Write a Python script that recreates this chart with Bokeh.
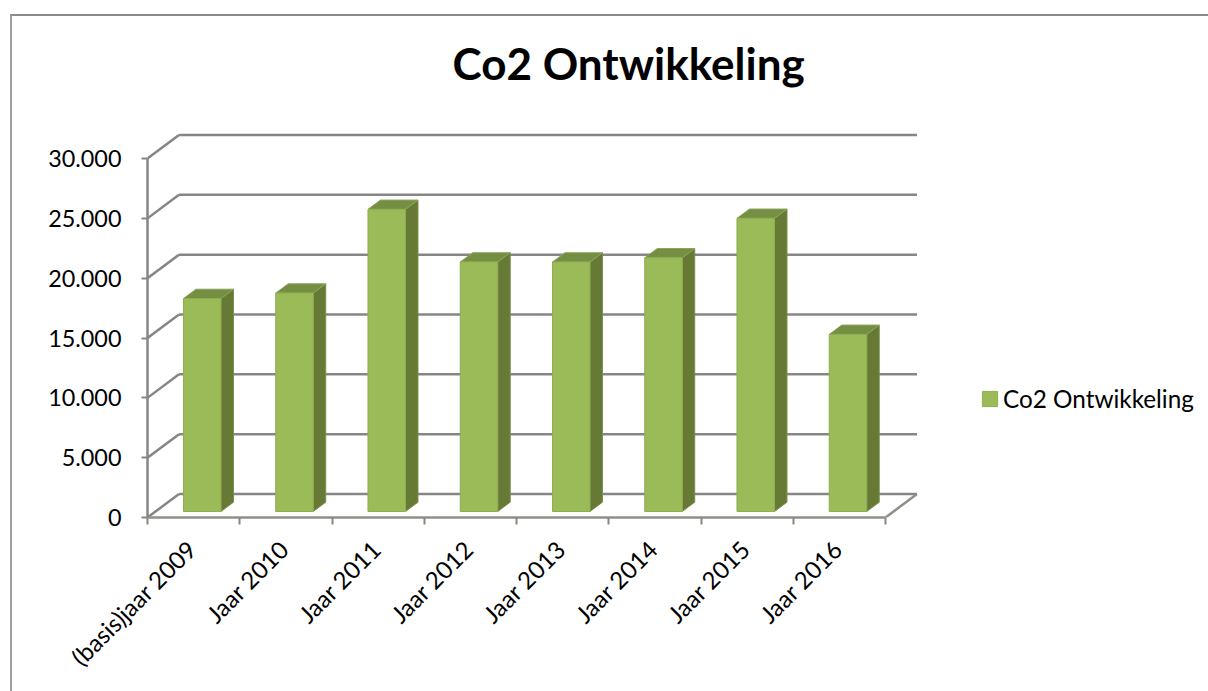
import math
from bokeh.plotting import figure
from bokeh.models import (ColumnDataSource, FixedTicker, Legend, LegendItem, Title, InlineStyleSheet)
from bokeh.embed import file_html
from bokeh.resources import INLINE

categories = ["(basis)jaar 2009", "Jaar 2010", "Jaar 2011", "Jaar 2012",
              "Jaar 2013", "Jaar 2014", "Jaar 2015", "Jaar 2016"]
co2_values = [17800, 18250, 25250, 20850, 20850, 21200, 24500, 14800]
y_ticks = [0, 5000, 10000, 15000, 20000, 25000, 30000]
y_labels = ["0", "5.000", "10.000", "15.000", "20.000", "25.000", "30.000"]
series_name = "Co2 Ontwikkeling"

# projection of the pseudo-3D chart
PX_PER_CAT = 92.25
PX_PER_VAL = 359 / 30000
FRAME_W, FRAME_H = 1061, 417
DEPTH_X, DEPTH_Y = 31.5 / PX_PER_CAT, 23.5 / PX_PER_VAL
BAR_W = 37.5 / PX_PER_CAT
BAR_SHIFT_X, BAR_SHIFT_Y = 8.6 / PX_PER_CAT, 6 / PX_PER_VAL
SIDE_X, SIDE_Y = 12.5 / PX_PER_CAT, 9.3 / PX_PER_VAL
LABEL_NUDGE = 2 / PX_PER_CAT
GRID = "#868686"
FONT = "Lato"

p = figure(width=1208, height=691, frame_width=FRAME_W, frame_height=FRAME_H,
           x_range=(0, FRAME_W / PX_PER_CAT), y_range=(0, FRAME_H / PX_PER_VAL),
           output_backend="svg", toolbar_location=None, tools="",
           min_border_left=147, min_border_right=0, min_border_top=100, min_border_bottom=174,
           x_axis_type="linear", y_axis_type="linear")
p.grid.visible = False
p.outline_line_color = None
p.background_fill_color = None
p.border_fill_color = "white"

p.title = Title(text=series_name, text_font=FONT, text_font_size="44px", text_font_style="bold",
                text_color="black", align="left", offset=305, standoff=24)

n = len(categories)
# side-wall and back-wall lines
p.segment(x0=[0] * len(y_ticks), y0=y_ticks,
          x1=[DEPTH_X] * len(y_ticks), y1=[v + DEPTH_Y for v in y_ticks],
          line_color=GRID, line_width=2.5)
p.segment(x0=[DEPTH_X] * len(y_ticks), y0=[v + DEPTH_Y for v in y_ticks],
          x1=[n + DEPTH_X] * len(y_ticks), y1=[v + DEPTH_Y for v in y_ticks],
          line_color=GRID, line_width=2.5)
# floor right edge
p.segment(x0=[n], y0=[0], x1=[n + DEPTH_X], y1=[DEPTH_Y], line_color="#8f9085", line_width=2.5)

idx = [i + 0.5 + BAR_SHIFT_X for i in range(n)]
src = ColumnDataSource(dict(
    x=idx,
    top=[v + BAR_SHIFT_Y for v in co2_values],
    bottom=[BAR_SHIFT_Y] * n))

side_xs, side_ys, top_xs, top_ys = [], [], [], []
for cx, v in zip(idx, co2_values):
    xr, xl = cx + BAR_W / 2, cx - BAR_W / 2
    yt, yb = v + BAR_SHIFT_Y, BAR_SHIFT_Y
    side_xs.append([xr, xr + SIDE_X, xr + SIDE_X, xr])
    side_ys.append([yb, yb + SIDE_Y, yt + SIDE_Y, yt])
    top_xs.append([xl, xl + SIDE_X, xr + SIDE_X, xr])
    top_ys.append([yt, yt + SIDE_Y, yt + SIDE_Y, yt])

p.patches(side_xs, side_ys, fill_color="#667A35", line_color="#7a8f4a", line_width=1)
p.patches(top_xs, top_ys, fill_color="#748F42", line_color="#8fa35f", line_width=1)
bars = p.vbar(x="x", top="top", bottom="bottom", width=BAR_W, source=src,
              fill_color="#9BBB59", line_color="#8fae52", line_width=1)

# axes
label_at = [i + 0.5 - LABEL_NUDGE for i in range(n)]
xa = p.xaxis[0]
xa.ticker = FixedTicker(ticks=label_at, minor_ticks=list(range(n + 1)))
xa.major_label_overrides = dict(zip(label_at, categories))
xa.bounds = (0, n)
xa.major_tick_line_color = None
xa.minor_tick_line_color = GRID
xa.minor_tick_line_width = 2
xa.minor_tick_in = 0
xa.minor_tick_out = 7
xa.axis_line_color = "#8f9085"
xa.axis_line_width = 2.5
xa.major_label_orientation = math.pi / 4
xa.major_label_standoff = 20
xa.major_label_text_font = FONT
xa.major_label_text_font_size = "24px"
xa.major_label_text_color = "black"

ya = p.yaxis[0]
ya.ticker = FixedTicker(ticks=y_ticks)
ya.major_label_overrides = dict(zip(y_ticks, y_labels))
ya.bounds = (0, 30000)
ya.major_tick_line_color = GRID
ya.major_tick_line_width = 2
ya.major_tick_in = 0
ya.major_tick_out = 6
ya.minor_tick_line_color = None
ya.axis_line_color = GRID
ya.axis_line_width = 2.5
ya.major_label_standoff = 20
ya.major_label_text_font = FONT
ya.major_label_text_font_size = "23.4px"
ya.major_label_text_color = "black"

legend = Legend(items=[LegendItem(label=series_name, renderers=[bars])],
                location=(833, 104), orientation="vertical",
                background_fill_alpha=0, border_line_color=None,
                label_text_font=FONT, label_text_font_size="24.3px", label_text_color="black",
                glyph_width=19, glyph_height=19, label_standoff=4,
                padding=0, margin=0, spacing=0)
p.add_layout(legend)

# outer chart-area border, drawn over the page edge as in the reference
p.stylesheets = [InlineStyleSheet(css=""":host::after {
  content: ''; position: absolute; left: 9.5px; top: 14px; right: 0; bottom: 0;
  border-left: 2px solid #a0a0a0; border-top: 2px solid #8a8a8a; pointer-events: none;
}""")]

open("out.html", "w").write(file_html(p, INLINE))
